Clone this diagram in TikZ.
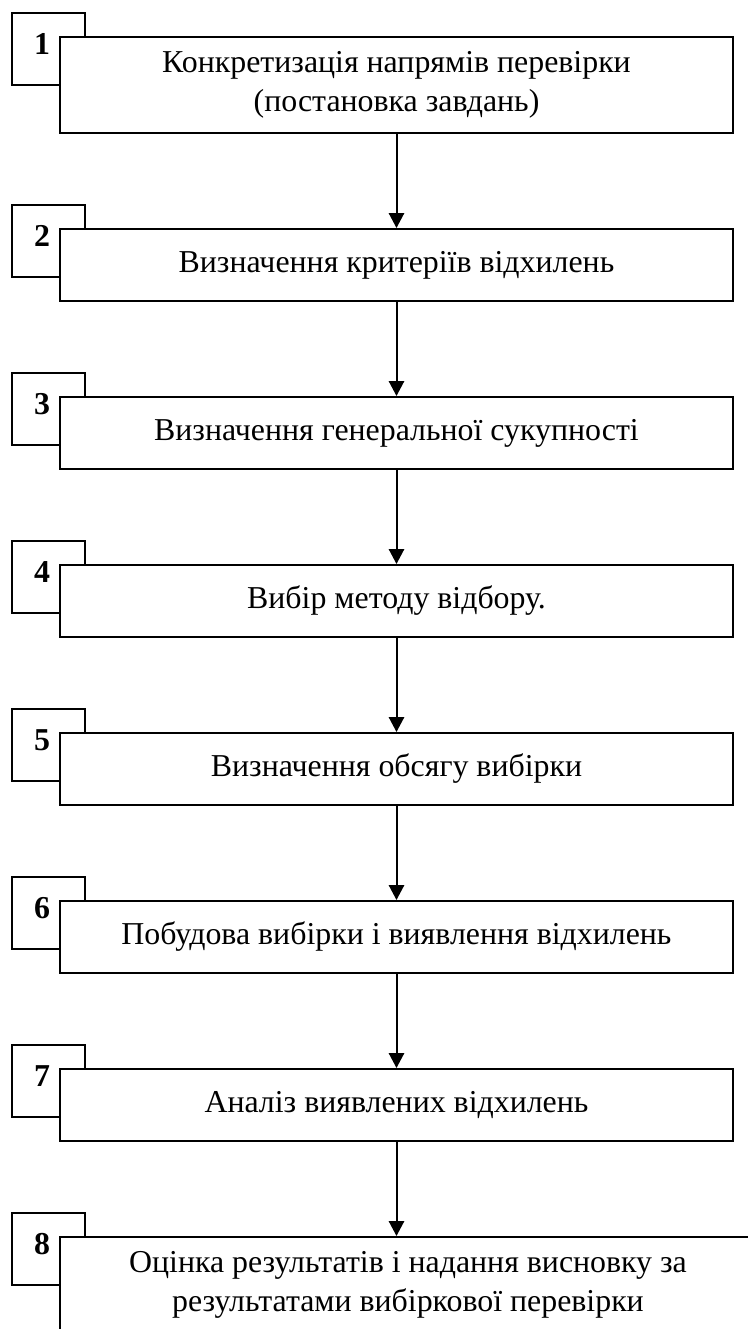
\documentclass[tikz,border=0pt]{standalone}
\usepackage{fontspec}
\setmainfont{Liberation Serif}
\usepackage{tikz}
\usetikzlibrary{positioning,arrows.meta}
\newcommand{\stagefont}{\fontsize{23.9}{29}\selectfont}
\tikzset{
  stage/.style={draw, line width=1.5pt, fill=white, align=center, minimum width=#1, minimum height=54pt, inner sep=0pt, font=\stagefont},
  stage/.default={504.75pt},
  numbox/.style={draw, line width=1.5pt, fill=white, minimum size=54.4pt, inner sep=0pt, label={[numlbl, xshift=-5pt, yshift=3.75pt]center:#1}},
  numlbl/.style={font=\stagefont\bfseries},
  flow/.style={-{Triangle[length=11.25pt, width=11.5pt]}, line width=1.5pt}
}

\begin{document}
\begin{tikzpicture}[x=0.75pt, y=-0.75pt]
  \useasboundingbox (0,0) rectangle (748,1329);
  \node[numbox=1] (n1) at (48.75,49) {};
  \node[stage, minimum height=72pt] (s1) at (396.5,85) {Конкретизація напрямів перевірки\\(постановка завдань)};
  \node[numbox=2] (n2) at (48.75,241) {};
  \node[stage] (s2) at (396.5,265) {Визначення критеріїв відхилень};
  \node[numbox=3] (n3) at (48.75,409) {};
  \node[stage] (s3) at (396.5,433) {Визначення генеральної сукупності};
  \node[numbox=4] (n4) at (48.75,577) {};
  \node[stage] (s4) at (396.5,601) {Вибір методу відбору.};
  \node[numbox=5] (n5) at (48.75,745) {};
  \node[stage] (s5) at (396.5,769) {Визначення обсягу вибірки};
  \node[numbox=6] (n6) at (48.75,913) {};
  \node[stage] (s6) at (396.5,937) {Побудова вибірки і виявлення відхилень};
  \node[numbox=7] (n7) at (48.75,1081) {};
  \node[stage] (s7) at (396.5,1105) {Аналіз виявлених відхилень};
  \node[numbox=8] (n8) at (48.75,1249) {};
  \node[stage=522pt, minimum height=72pt] (s8) at (408,1285) {Оцінка результатів і надання висновку за\\результатами вибіркової перевірки};
  \foreach \a/\b in {s1/s2,s2/s3,s3/s4,s4/s5,s5/s6,s6/s7} \draw[flow] (\a) -- (\b);
  \draw[flow] (s7.south) -- (s7.south |- s8.north);
\end{tikzpicture}
\end{document}
